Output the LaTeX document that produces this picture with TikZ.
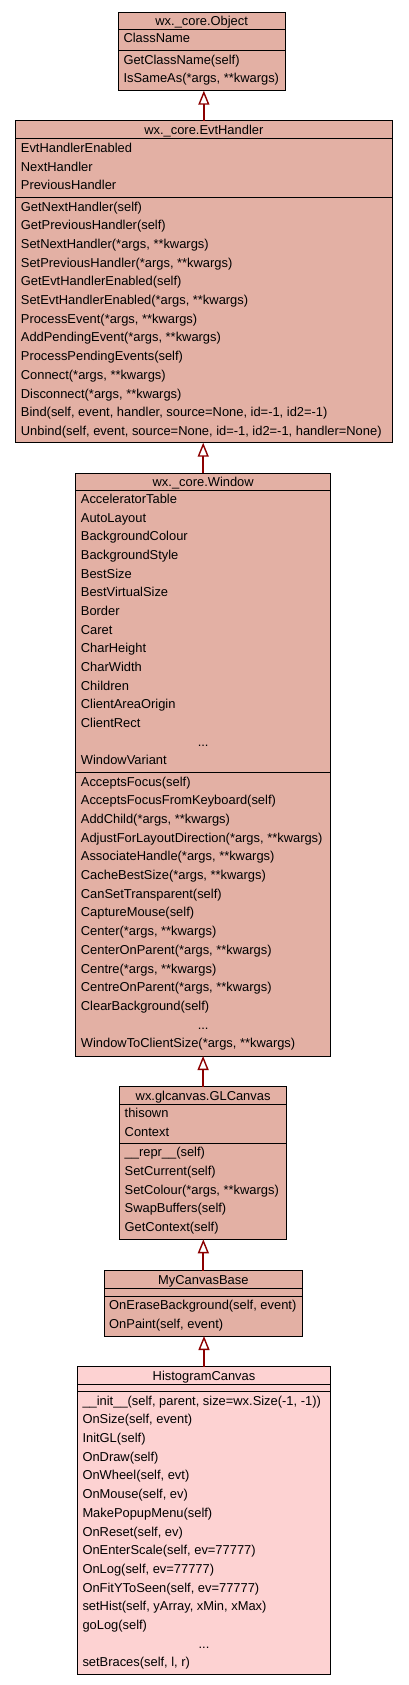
\documentclass[tikz,border=0pt]{standalone}
\usepackage{fontspec}
\setmainfont{Liberation Sans}
\usetikzlibrary{arrows.meta}
\definecolor{boxfill}{RGB}{227,176,164}
\definecolor{leaffill}{RGB}{253,210,210}
\definecolor{arrowred}{RGB}{140,0,0}
\tikzset{
  umlbox/.style={draw=black, line width=1pt, anchor=north west, inner sep=0pt, outer sep=0pt},
  sepline/.style={black, line width=1pt},
  rowtext/.style={anchor=base west, inner sep=0pt, font=\fontsize{12.9}{14}\selectfont},
  titletext/.style={anchor=base, inner sep=0pt, font=\fontsize{12.9}{14}\selectfont},
  inherit/.style={arrowred, line width=2.2pt, -{Triangle[open, length=14pt, width=11pt, line width=1.4pt]}}
}
\begin{document}
\begin{tikzpicture}[x=1pt, y=-1pt]
\useasboundingbox (0,0) rectangle (408,1685);

% ---------- wx._core.Object ----------
\node[umlbox, fill=boxfill, minimum width=166.7pt, minimum height=78.4pt] (obj) at (118.3,12.3) {};
\draw[sepline] (118.3,29.3) -- (285,29.3);
\draw[sepline] (118.3,50.7) -- (285,50.7);
\node[titletext] (objt) at (201.65,25.3) {wx.\_core.Object};
\node[rowtext] (obja0) at (123.3,42.9) {ClassName};
\foreach \t [count=\i from 0] in {GetClassName(self), {IsSameAs(*args, **kwargs)}}
  \node[rowtext] (objm\i) at (123.3,{64.3+\i*18.67}) {\t};

% ---------- wx._core.EvtHandler ----------
\node[umlbox, fill=boxfill, minimum width=376.3pt, minimum height=322pt] (evt) at (15.7,120.7) {};
\draw[sepline] (15.7,139) -- (392,139);
\draw[sepline] (15.7,197.7) -- (392,197.7);
\node[titletext] (evtt) at (203.85,135) {wx.\_core.EvtHandler};
\foreach \t [count=\i from 0] in {EvtHandlerEnabled, NextHandler, PreviousHandler}
  \node[rowtext] (evta\i) at (20.7,{152.6+\i*18.67}) {\t};
\foreach \t [count=\i from 0] in {GetNextHandler(self), GetPreviousHandler(self),
  {SetNextHandler(*args, **kwargs)}, {SetPreviousHandler(*args, **kwargs)},
  GetEvtHandlerEnabled(self), {SetEvtHandlerEnabled(*args, **kwargs)},
  {ProcessEvent(*args, **kwargs)}, {AddPendingEvent(*args, **kwargs)},
  ProcessPendingEvents(self), {Connect(*args, **kwargs)}, {Disconnect(*args, **kwargs)},
  {Bind(self, event, handler, source=None, id=-1, id2=-1)},
  {Unbind(self, event, source=None, id=-1, id2=-1, handler=None)}}
  \node[rowtext] (evtm\i) at (20.7,{211.3+\i*18.67}) {\t};

% ---------- wx._core.Window ----------
\node[umlbox, fill=boxfill, minimum width=255pt, minimum height=582.7pt] (win) at (75.7,473.3) {};
\draw[sepline] (75.7,490) -- (330.7,490);
\draw[sepline] (75.7,772.7) -- (330.7,772.7);
\node[titletext] (wint) at (203.2,486) {wx.\_core.Window};
\foreach \t [count=\i from 0] in {AcceleratorTable, AutoLayout, BackgroundColour,
  BackgroundStyle, BestSize, BestVirtualSize, Border, Caret, CharHeight, CharWidth,
  Children, ClientAreaOrigin, ClientRect}
  \node[rowtext] (wina\i) at (80.7,{503.6+\i*18.67}) {\t};
\node[titletext] (winadots) at (203.2,{503.6+13*18.67}) {...};
\node[rowtext] (winalast) at (80.7,{503.6+14*18.67}) {WindowVariant};
\foreach \t [count=\i from 0] in {AcceptsFocus(self), AcceptsFocusFromKeyboard(self),
  {AddChild(*args, **kwargs)}, {AdjustForLayoutDirection(*args, **kwargs)},
  {AssociateHandle(*args, **kwargs)}, {CacheBestSize(*args, **kwargs)},
  CanSetTransparent(self), CaptureMouse(self), {Center(*args, **kwargs)},
  {CenterOnParent(*args, **kwargs)}, {Centre(*args, **kwargs)},
  {CentreOnParent(*args, **kwargs)}, ClearBackground(self)}
  \node[rowtext] (winm\i) at (80.7,{786.3+\i*18.67}) {\t};
\node[titletext] (winmdots) at (203.2,{786.3+13*18.67}) {...};
\node[rowtext] (winmlast) at (80.7,{786.3+14*18.67}) {WindowToClientSize(*args, **kwargs)};

% ---------- wx.glcanvas.GLCanvas ----------
\node[umlbox, fill=boxfill, minimum width=167.2pt, minimum height=152.6pt] (gl) at (119.5,1086.7) {};
\draw[sepline] (119.5,1104) -- (286.7,1104);
\draw[sepline] (119.5,1143.3) -- (286.7,1143.3);
\node[titletext] (glt) at (203.1,1100) {wx.glcanvas.GLCanvas};
\foreach \t [count=\i from 0] in {thisown, Context}
  \node[rowtext] (gla\i) at (124.5,{1117.6+\i*18.67}) {\t};
\foreach \t [count=\i from 0] in {\_\_repr\_\_(self), SetCurrent(self),
  {SetColour(*args, **kwargs)}, SwapBuffers(self), GetContext(self)}
  \node[rowtext] (glm\i) at (124.5,{1156.9+\i*18.67}) {\t};

% ---------- MyCanvasBase ----------
\node[umlbox, fill=boxfill, minimum width=198.7pt, minimum height=65.3pt] (mcb) at (104,1270.7) {};
\draw[sepline] (104,1288.3) -- (302.7,1288.3);
\draw[sepline] (104,1296) -- (302.7,1296);
\node[titletext] (mcbt) at (203.35,1284.3) {MyCanvasBase};
\foreach \t [count=\i from 0] in {{OnEraseBackground(self, event)}, {OnPaint(self, event)}}
  \node[rowtext] (mcbm\i) at (109,{1309.6+\i*18.67}) {\t};

% ---------- HistogramCanvas ----------
\node[umlbox, fill=leaffill, minimum width=253.4pt, minimum height=307.6pt] (hist) at (77.3,1366.7) {};
\draw[sepline] (77.3,1384) -- (330.7,1384);
\draw[sepline] (77.3,1391.7) -- (330.7,1391.7);
\node[titletext] (histt) at (204,1380) {HistogramCanvas};
\foreach \t [count=\i from 0] in {{\_\_init\_\_(self, parent, size=wx.Size(-1, -1))},
  {OnSize(self, event)}, InitGL(self), OnDraw(self), {OnWheel(self, evt)},
  {OnMouse(self, ev)}, MakePopupMenu(self), {OnReset(self, ev)},
  {OnEnterScale(self, ev=77777)}, {OnLog(self, ev=77777)},
  {OnFitYToSeen(self, ev=77777)}, {setHist(self, yArray, xMin, xMax)}, goLog(self)}
  \node[rowtext] (histm\i) at (82.3,{1405.3+\i*18.67}) {\t};
\node[titletext] (histmdots) at (204,{1405.3+13*18.67}) {...};
\node[rowtext] (histmlast) at (82.3,{1405.3+14*18.67}) {setBraces(self, l, r)};

% ---------- inheritance arrows ----------
\draw[inherit] (evt.north) -- (evt.north |- obj.south);
\draw[inherit] (win.north) -- (win.north |- evt.south);
\draw[inherit] (gl.north) -- (gl.north |- win.south);
\draw[inherit] (mcb.north) -- (mcb.north |- gl.south);
\draw[inherit] (hist.north) -- (hist.north |- mcb.south);
\end{tikzpicture}
\end{document}
